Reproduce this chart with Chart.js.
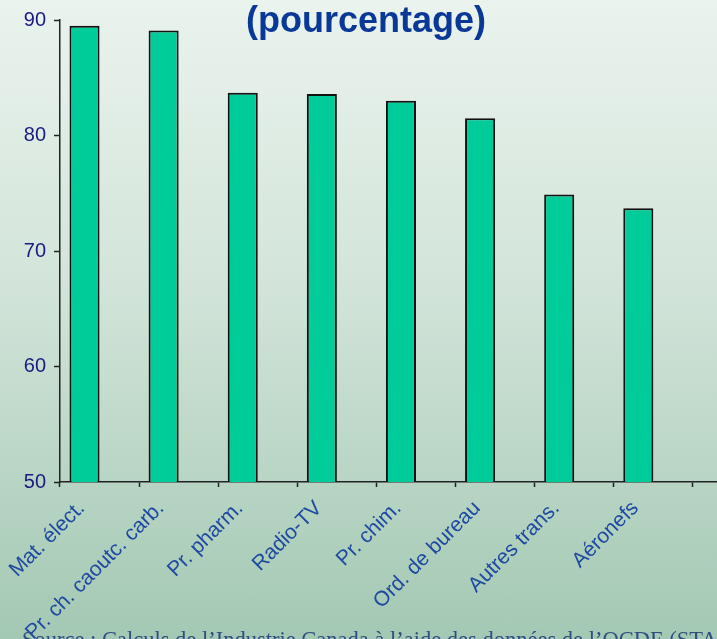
<!DOCTYPE html>
<html>
<head>
<meta charset="utf-8">
<script src="https://cdn.jsdelivr.net/npm/chart.js@4/dist/chart.umd.min.js"></script>
<style>
  html, body { margin: 0; padding: 0; width: 717px; height: 639px; overflow: hidden; }
  #wrap { position: relative; width: 717px; height: 639px; overflow: hidden;
          background: linear-gradient(to bottom, #eaf3ee 0%, #d2e4d9 45%, #a3c8b3 100%); }
  #c { position: absolute; left: 0; top: 0; }
  #title { position: absolute; left: 0; width: 732px; top: 2px; text-align: center;
           font: bold 36px "Liberation Sans", Arial, sans-serif; line-height: 36px; color: #0a3896; }
  #source { position: absolute; left: 22px; top: 627px; white-space: nowrap;
            font: 22.5px "Liberation Serif", "Times New Roman", serif; line-height: 26px; color: #2e4e7e; }
</style>
</head>
<body>
<div id="wrap">
  <canvas id="c" width="772" height="639"></canvas>
  <div id="title">(pourcentage)</div>
  <div id="source">Source : Calculs de l’Industrie Canada à l’aide des données de l’OCDE (STAN)</div>
</div>
<script>
const categories = ['Mat. élect.', 'Pr. ch. caoutc. carb.', 'Pr. pharm.', 'Radio-TV', 'Pr. chim.', 'Ord. de bureau', 'Autres trans.', 'Aéronefs', ''];
const shareValues = [89.5, 89.1, 83.7, 83.6, 83.0, 81.5, 74.9, 73.7, null];
const emptySeries = [null, null, null, null, null, null, null, null, null];
const yMin = 50, yMax = 90, yStep = 10;

new Chart(document.getElementById('c'), {
  type: 'bar',
  data: {
    labels: categories,
    datasets: [
      { data: shareValues, backgroundColor: '#00cc99', borderColor: '#111', borderWidth: 2,
        categoryPercentage: 0.76, barPercentage: 1.0 },
      { data: emptySeries, backgroundColor: '#00cc99', categoryPercentage: 0.76, barPercentage: 1.0 }
    ]
  },
  options: {
    responsive: false,
    animation: false,
    devicePixelRatio: 1,
    layout: { padding: { top: 19, right: 0, bottom: 0, left: 0 } },
    plugins: { legend: { display: false }, tooltip: { enabled: false }, title: { display: false } },
    scales: {
      x: {
        offset: true,
        grid: { offset: true, drawOnChartArea: false, tickLength: 5, tickColor: '#222', tickWidth: 1.5 },
        border: { display: true, color: '#222', width: 1.5 },
        ticks: { minRotation: 45, maxRotation: 45, autoSkip: false, color: '#1f4aa0', labelOffset: -18,
                 font: { family: '"Liberation Sans", Arial, sans-serif', size: 21 }, padding: 9 },
        afterFit: (s) => { s.height = 157; }
      },
      y: {
        min: yMin, max: yMax,
        grid: { drawOnChartArea: false, tickLength: 6, tickColor: '#222', tickWidth: 1.5 },
        border: { display: true, color: '#222', width: 1.5 },
        ticks: { stepSize: yStep, color: '#1a1a80', padding: 8,
                 font: { family: '"Liberation Sans", Arial, sans-serif', size: 20 } },
        afterFit: (s) => { s.width = 60; }
      }
    }
  }
});
</script>
</body>
</html>
